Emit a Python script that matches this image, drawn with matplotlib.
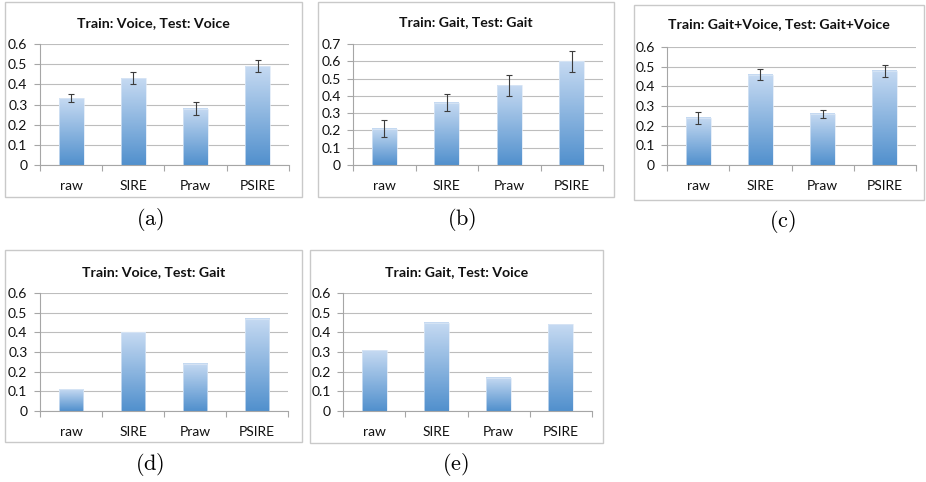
import numpy as np
import matplotlib
matplotlib.use("Agg")
import matplotlib.pyplot as plt
from matplotlib.colors import LinearSegmentedColormap
from matplotlib.patches import Rectangle

plt.rcParams['font.family'] = ['Lato', 'DejaVu Sans']
plt.rcParams['mathtext.fontset'] = 'cm'

methods = ['raw', 'SIRE', 'Praw', 'PSIRE']

titles = ['Train: Voice, Test: Voice',
          'Train: Gait, Test: Gait',
          'Train: Gait+Voice, Test: Gait+Voice',
          'Train: Voice, Test: Gait',
          'Train: Gait, Test: Voice']
captions = ['(a)', '(b)', '(c)', '(d)', '(e)']

voice_voice = [0.33, 0.43, 0.28, 0.49]
voice_voice_err = [0.02, 0.03, 0.03, 0.03]
gait_gait = [0.21, 0.36, 0.46, 0.60]
gait_gait_err = [0.05, 0.05, 0.06, 0.06]
both_both = [0.24, 0.46, 0.26, 0.48]
both_both_err = [0.03, 0.03, 0.02, 0.03]
voice_gait = [0.11, 0.40, 0.24, 0.47]
gait_voice = [0.31, 0.45, 0.17, 0.44]

series = [voice_voice, gait_gait, both_both, voice_gait, gait_voice]
errors = [voice_voice_err, gait_gait_err, both_both_err, None, None]
ymax = [0.6, 0.7, 0.6, 0.6, 0.6]

W, H = 926, 482
fig = plt.figure(figsize=(W / 100, H / 100), dpi=100)

# pixel layout: outer box, plot area, title y, caption (x, y)
boxes = [(5, 2, 302, 197), (318, 2, 614, 197), (634, 5, 924, 200),
         (5, 250, 302, 442), (310, 250, 603, 443)]
areas = [(40, 44, 289, 165), (353, 44, 603, 165), (667, 47, 916, 165),
         (40, 293, 288, 411), (343, 293, 592, 411)]
title_y = [23, 22, 24, 272, 272]
cap_pos = [(150, 220), (462, 220), (782, 222), (150, 465), (455, 465)]

grad = LinearSegmentedColormap.from_list('bar', ['#5190cd', '#c6daf2'])
grid_col = '#bdbdbd'
axis_col = '#a6a6a6'


def fx(x):
    return x / W


def fy(y):
    return 1 - y / H


for i in range(5):
    bx0, by0, bx1, by1 = boxes[i]
    fig.add_artist(Rectangle((fx(bx0), fy(by1)), fx(bx1 - bx0), (by1 - by0) / H,
                             transform=fig.transFigure, fill=False,
                             edgecolor='#c9c9c9', lw=1.0))
    fig.text(fx((bx0 + bx1) / 2), fy(title_y[i]), titles[i], ha='center', va='center',
             fontsize=10.2, fontweight='bold', color='#111111')
    fig.text(fx(cap_pos[i][0]), fy(cap_pos[i][1]), r'$\mathrm{' + captions[i] + '}$',
             ha='center', va='center', fontsize=16)

    x0, y0, x1, y1 = areas[i]
    ax = fig.add_axes([fx(x0), fy(y1), fx(x1 - x0), (y1 - y0) / H])
    vals = series[i]
    xs = np.arange(len(methods))
    bars = ax.bar(xs, vals, width=0.4, color='none', edgecolor='#dce8f6', lw=0.5, zorder=3)
    gimg = np.linspace(0, 1, 256).reshape(-1, 1)
    for b in bars:
        ax.imshow(gimg, extent=[b.get_x(), b.get_x() + b.get_width(), 0, b.get_height()],
                  origin='lower', aspect='auto', cmap=grad, zorder=2)
    if errors[i] is not None:
        ax.errorbar(xs, vals, yerr=errors[i], fmt='none', ecolor='#3c3c3c',
                    elinewidth=0.8, capsize=2.5, capthick=0.8, zorder=4)

    ax.set_xlim(-0.5, len(methods) - 0.5)
    ax.set_ylim(0, ymax[i])
    yt = np.round(np.arange(0, ymax[i] + 0.001, 0.1), 1)
    ax.set_yticks(yt, ['0' if v == 0 else f'{v:.1f}' for v in yt])
    ax.set_xticks(xs, methods)
    ax.set_xticks(np.arange(-0.5, len(methods)), minor=True)
    ax.tick_params(axis='x', which='major', length=0, pad=11, labelsize=10, colors='#111111')
    ax.tick_params(axis='x', which='minor', length=4, color=axis_col, width=0.8)
    ax.tick_params(axis='y', length=4, color=axis_col, width=0.8, pad=5,
                   labelsize=10, labelcolor='#111111')
    ax.grid(axis='y', color=grid_col, lw=0.8, zorder=0)
    ax.set_axisbelow(True)
    for s in ['top', 'right']:
        ax.spines[s].set_visible(False)
    for s in ['left', 'bottom']:
        ax.spines[s].set_color(axis_col)
        ax.spines[s].set_linewidth(0.8)
    ax.patch.set_alpha(0)

fig.savefig('out.png', dpi=100)
